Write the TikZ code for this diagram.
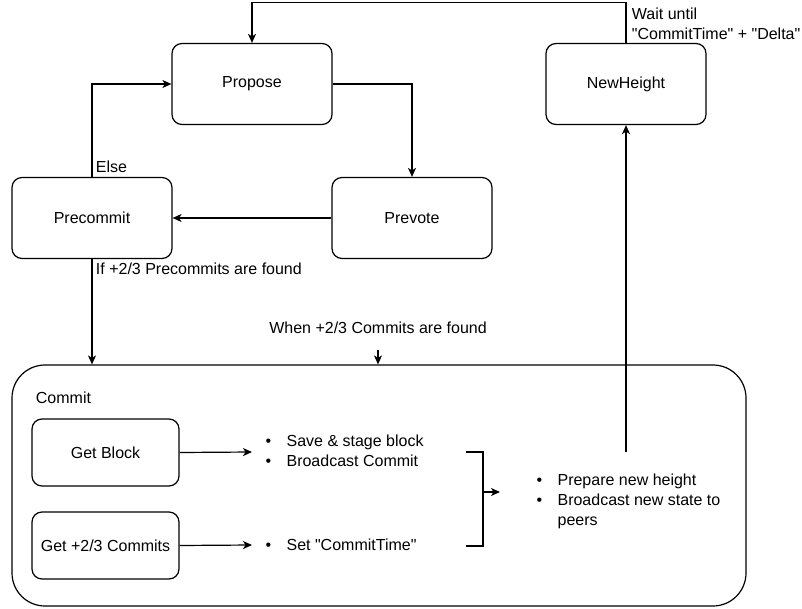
\documentclass[tikz,border=0pt]{standalone}
\usepackage{fontspec}
\setmainfont{Liberation Sans}
\usetikzlibrary{positioning,arrows.meta}
\newcommand{\bulletpt}{\makebox[21pt][l]{\textbullet}}
\newcommand{\qt}[1]{\textquotedbl#1\textquotedbl}

\begin{document}
\begin{tikzpicture}[->, >={Stealth[length=9pt,width=8pt,inset=2.5pt]}, x=1pt, y=-1pt, line width=1.2pt,
    font=\fontsize{16}{20}\selectfont,
    state/.style={rectangle, draw, rounded corners=10pt, minimum width=160pt, minimum height=81pt},
    substate/.style={rectangle, draw, rounded corners=10pt, minimum width=147pt, minimum height=67pt},
    bullets/.style={align=left, inner sep=0pt, anchor=west}]
    \useasboundingbox (0,0) rectangle (802,609);

    % Define states
    \node[state] (propose) at (252,84) {Propose};
    \node[state, right of=propose, node distance=374pt] (newheight) {NewHeight};
    \node[state] (precommit) at (92,218) {Precommit};
    \node[state, right of=precommit, node distance=320pt] (prevote) {Prevote};

    % Commit state with its steps
    \node[draw, rounded corners=33pt, minimum width=734pt, minimum height=241pt] (commit) at (379,485.5) {};
    \node[anchor=west] (commitlabel) at (32,398) {Commit};
    \node[substate] (getblock) at (105.5,452.5) {Get Block};
    \node[substate, below of=getblock, node distance=93pt] (getcommits) {Get +2/3 Commits};
    \node[bullets] (blocklist) at (265,450.5) {\bulletpt Save \& stage block\\\bulletpt Broadcast Commit};
    \node[bullets] (timelist) at (265,545) {\bulletpt Set \qt{CommitTime}};
    \node[bullets] (heightlist) at (536,501) {\bulletpt Prepare new height\\\bulletpt Broadcast new state to\\\phantom{\bulletpt}peers};

    % Free ends
    \coordinate (blockin) at (252,452);
    \coordinate (timein) at (252,545);
    \coordinate (brtop) at (466,452);
    \coordinate (brbot) at (466,546);
    \coordinate (brmid) at (483,492);
    \coordinate (heightin) at (500,492);
    \coordinate (heightup) at (626,452);
    \coordinate (whenin) at (378,350);

    % Transitions between states
    \draw (propose.east) -| (prevote.north);
    \draw (prevote.west) -- (precommit.east);
    \draw (precommit.north) node[anchor=south west] {Else} |- (propose.west);
    \draw (precommit.south) node[anchor=north west] {If +2/3 Precommits are found} -- (precommit.south |- commit.north);
    \node (whenlabel) at (378,328) {When +2/3 Commits are found};
    \draw (whenin) -- (whenin |- commit.north);
    \draw (newheight.north) node[anchor=south west, align=left, xshift=2pt, yshift=-1pt] (waitlabel) {Wait until\\\qt{CommitTime} + \qt{Delta}} -- ++(0,-40) -| (propose.north);
    \draw (heightup) -- (newheight.south);

    % Inside commit
    \draw (getblock.east) -- (blockin);
    \draw (getcommits.east) -- (timein);
    \draw[-] (brtop) -- ++(17,0) |- (brbot);
    \draw (brmid) -- (heightin);

    \end{tikzpicture}
\end{document}
